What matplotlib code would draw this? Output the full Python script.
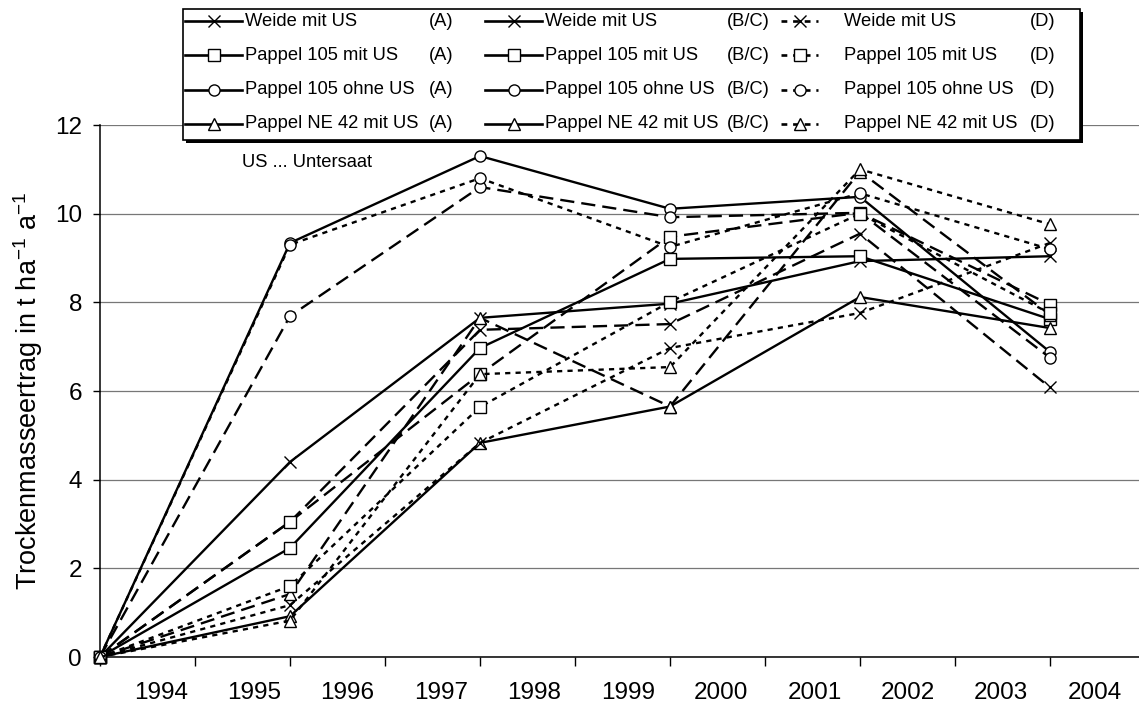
import matplotlib
matplotlib.use("Agg")
import matplotlib.pyplot as plt
from matplotlib.lines import Line2D
from matplotlib.patches import Rectangle

plt.rcParams['font.family'] = ['Liberation Sans', 'DejaVu Sans']
plt.rcParams['mathtext.fontset'] = 'custom'
plt.rcParams['mathtext.rm'] = 'Liberation Sans'

# harvest dates (start of year) and year labels
x_years = [1994, 1996, 1998, 2000, 2002, 2004]
year_labels = [str(y) for y in range(1994, 2005)]

# Trockenmasseertrag t/ha/a
weide_A = [0, 4.40, 7.65, 7.97, 8.93, 9.04]
weide_BC = [0, 3.05, 7.38, 7.51, 9.55, 6.08]
weide_D = [0, 1.17, 4.83, 6.97, 7.76, 9.34]
p105_A = [0, 2.46, 6.97, 8.98, 9.04, 7.62]
p105_BC = [0, 3.05, 6.38, 9.48, 10.02, 7.95]
p105_D = [0, 1.60, 5.64, 8.01, 10.00, 7.75]
ohne_A = [0, 9.34, 11.30, 10.11, 10.38, 6.88]
ohne_BC = [0, 7.69, 10.60, 9.92, 10.02, 6.75]
ohne_D = [0, 9.30, 10.80, 9.25, 10.46, 9.20]
ne42_A = [0, 0.92, 4.83, 5.65, 8.12, 7.42]
ne42_BC = [0, 1.42, 7.65, 5.65, 10.95, 7.72]
ne42_D = [0, 0.82, 6.38, 6.54, 11.00, 9.76]

names = ["Weide mit US", "Pappel 105 mit US", "Pappel 105 ohne US", "Pappel NE 42 mit US"]
groups = ["(A)", "(B/C)", "(D)"]

markers = ['x', 's', 'o', '^']
styles = ['-', (0, (6, 3)), (0, (2.2, 2.2))]
handle_styles = ['-', '-', (0, (2.2, 2.2))]
data = [[weide_A, weide_BC, weide_D],
        [p105_A, p105_BC, p105_D],
        [ohne_A, ohne_BC, ohne_D],
        [ne42_A, ne42_BC, ne42_D]]

W, H = 1139, 709
fig = plt.figure(figsize=(W / 100, H / 100), dpi=100)
ax = fig.add_axes([100 / W, 52 / H, 1039 / W, 532 / H])

def mstyle(m):
    return dict(marker=m, ms=9 if m == 'x' else 8, mfc='white', mec='black', mew=1.0)

for g in range(3):
    for i in range(4):
        ax.plot(x_years, data[i][g], color='black', lw=1.7, ls=styles[g],
                clip_on=False, zorder=3, **mstyle(markers[i]))

ax.set_xlim(1994, 1994 + 1039 / 95)
ax.set_ylim(0, 12)
ax.set_yticks(range(0, 13, 2))
ax.yaxis.grid(True, color='#777777', lw=0.9)
ax.set_axisbelow(True)
ax.set_xticks(range(1994, 2005))
ax.set_xticklabels([])
ax.set_xticks([1994.64 + 0.983 * i for i in range(11)], minor=True)
ax.set_xticklabels(year_labels, minor=True)
ax.tick_params(axis='x', which='major', direction='out', length=6.5, width=1)
ax.tick_params(axis='x', which='minor', length=0, pad=18, labelsize=17.5)
ax.tick_params(axis='y', direction='out', length=5, width=1, pad=8, labelsize=17.5)
for s in ['top', 'right']:
    ax.spines[s].set_visible(False)
for s in ['left', 'bottom']:
    ax.spines[s].set_linewidth(1.1)
ax.set_ylabel("Trockenmasseertrag in t ha$^{\\mathregular{-1}}$ a$^{\\mathregular{-1}}$", fontsize=19.5)
ax.yaxis.set_label_coords(-0.053, 0.5)

# legend drawn in pixel coordinates on an overlay
ov = fig.add_axes([0, 0, 1, 1], zorder=5)
ov.set_xlim(0, W)
ov.set_ylim(H, 0)
ov.axis('off')
ov.add_patch(Rectangle((186, 12), 897, 131, facecolor='black', edgecolor='none'))
ov.add_patch(Rectangle((183, 9), 897, 131, facecolor='white', edgecolor='black', lw=1.2))

cols = [(185, 242, 245, 429), (485, 542, 545, 727), (781, 818, 844, 1030)]
rows = [21, 55.3, 89.7, 124]
for g, (h0, h1, tx, sx) in enumerate(cols):
    for i, ry in enumerate(rows):
        ov.add_line(Line2D([h0, h1], [ry, ry], color='black', lw=1.9, ls=handle_styles[g]))
        ov.add_line(Line2D([(h0 + h1) / 2], [ry], color='black', **mstyle(markers[i])))
        ov.text(tx, ry, names[i], fontsize=13.2, va='center', ha='left')
        ov.text(sx, ry, groups[g], fontsize=13.2, va='center', ha='left')

ax.text(0.137, 0.929, "US ... Untersaat", transform=ax.transAxes, fontsize=13.2,
        va='center', ha='left')

fig.savefig("out.png", dpi=100)
